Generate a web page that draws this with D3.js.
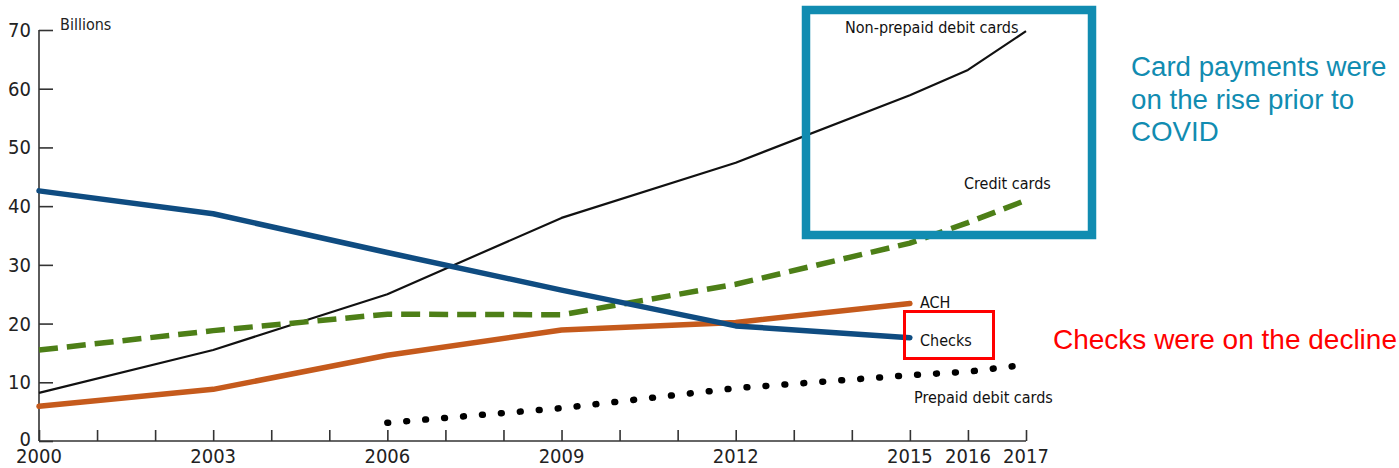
<!DOCTYPE html>
<html>
<head>
<meta charset="utf-8">
<script src="https://cdn.jsdelivr.net/npm/d3@7"></script>
<style>
  html, body { margin: 0; padding: 0; background: #fff; }
  svg { display: block; }
  .narrow { font-family: "Liberation Sans Narrow", "DejaVu Sans Condensed", "Liberation Sans", sans-serif; }
</style>
</head>
<body>
<svg id="chart" width="1399" height="468"></svg>
<script>
// Noncash payments by type, billions of transactions
const debitYears   = [2000, 2003, 2006, 2009, 2012, 2015, 2016, 2017];
const debitValues  = [8.2, 15.5, 25.0, 38.0, 47.4, 58.9, 63.2, 69.8];
const creditYears  = [2000, 2003, 2006, 2009, 2012, 2015, 2016, 2017];
const creditValues = [15.5, 18.8, 21.6, 21.5, 26.7, 33.7, 37.2, 41.0];
const checkYears   = [2000, 2003, 2006, 2009, 2012, 2015];
const checkValues  = [42.6, 38.7, 32.1, 25.7, 19.6, 17.6];
const achYears     = [2000, 2003, 2006, 2009, 2012, 2015];
const achValues    = [5.9, 8.8, 14.6, 18.9, 20.2, 23.4];
const prepaidYears = [2006, 2009, 2012, 2015, 2016, 2017];
const prepaidValues= [3.1, 5.6, 9.0, 11.2, 11.8, 13.0];
const yTicks       = [0, 10, 20, 30, 40, 50, 60, 70];
const xTickLabels  = [2000, 2003, 2006, 2009, 2012, 2015, 2016, 2017];

const svg = d3.select("#chart");
const x = d3.scaleLinear().domain([2000, 2017]).range([39, 1026]);
const y = d3.scaleLinear().domain([0, 70]).range([441, 30]);

const axisColor = "#333";

// Y axis: ticks point into the plot
const yAxis = d3.axisRight(y).tickValues(yTicks).tickSize(14).tickFormat("");
const yg = svg.append("g").attr("transform", "translate(39,0)").call(yAxis);
yg.select(".domain").attr("stroke", axisColor).attr("stroke-width", 1.6).attr("d", `M0,${y(70)}V${y(0)}`);
yg.selectAll(".tick line").attr("stroke", axisColor).attr("stroke-width", 1.6);
svg.append("g").selectAll("text").data(yTicks).join("text")
  .attr("class", "narrow")
  .attr("x", 31).attr("y", d => y(d) + (d === 0 ? 5 : 7))
  .attr("text-anchor", "end")
  .attr("font-size", 20).attr("fill", "#222")
  .text(d => d);

// X axis: a tick for every year, labels on selected years
const allYears = d3.range(2000, 2018);
const xAxis = d3.axisTop(x).tickValues(allYears).tickSize(11).tickFormat("");
const xg = svg.append("g").attr("transform", `translate(0,${y(0)})`).call(xAxis);
xg.select(".domain").attr("stroke", axisColor).attr("stroke-width", 1.6).attr("d", `M${x(2000)},0H${x(2017)}`);
xg.selectAll(".tick line").attr("stroke", axisColor).attr("stroke-width", 1.6);
svg.append("g").selectAll("text").data(xTickLabels).join("text")
  .attr("class", "narrow")
  .attr("x", d => x(d)).attr("y", 463)
  .attr("text-anchor", "middle")
  .attr("font-size", 20).attr("fill", "#222")
  .text(d => d);

svg.append("text").attr("class", "narrow")
  .attr("x", 60).attr("y", 30).attr("font-size", 16).attr("fill", "#222")
  .text("Billions");

// Series lines
const line = d3.line().x(d => x(d[0])).y(d => y(d[1]));
const zip = (a, b) => a.map((v, i) => [v, b[i]]);

svg.append("path").datum(zip(debitYears, debitValues))
  .attr("d", line).attr("fill", "none")
  .attr("stroke", "#111").attr("stroke-width", 2.2).attr("stroke-linejoin", "round");

svg.append("path").datum(zip(creditYears, creditValues))
  .attr("d", line).attr("fill", "none")
  .attr("stroke", "#4d7f17").attr("stroke-width", 5.5)
  .attr("stroke-dasharray", "19,9");

svg.append("path").datum(zip(achYears, achValues))
  .attr("d", line).attr("fill", "none")
  .attr("stroke", "#c55a1c").attr("stroke-width", 5.5)
  .attr("stroke-linecap", "round").attr("stroke-linejoin", "round");

svg.append("path").datum(zip(checkYears, checkValues))
  .attr("d", line).attr("fill", "none")
  .attr("stroke", "#0f4c81").attr("stroke-width", 5.5)
  .attr("stroke-linecap", "round").attr("stroke-linejoin", "round");

svg.append("path").datum(zip(prepaidYears, prepaidValues))
  .attr("d", line).attr("fill", "none")
  .attr("stroke", "#000").attr("stroke-width", 6.5)
  .attr("stroke-linecap", "round").attr("stroke-dasharray", "0.8,18.2");

// Series labels
const labels = [
  { text: "Non-prepaid debit cards", x: 845, y: 33 },
  { text: "Credit cards", x: 964, y: 189 },
  { text: "ACH", x: 920, y: 308 },
  { text: "Checks", x: 920, y: 346 },
  { text: "Prepaid debit cards", x: 914, y: 403 }
];
svg.append("g").selectAll("text").data(labels).join("text")
  .attr("class", "narrow")
  .attr("x", d => d.x).attr("y", d => d.y)
  .attr("font-size", 16).attr("fill", "#111")
  .text(d => d.text);

// Highlight boxes and notes
svg.append("rect")
  .attr("x", 806).attr("y", 10).attr("width", 286).attr("height", 225)
  .attr("fill", "none").attr("stroke", "#118cb1").attr("stroke-width", 8.5);

svg.append("rect")
  .attr("x", 904.5).attr("y", 311.5).attr("width", 89).attr("height", 47)
  .attr("fill", "none").attr("stroke", "#ff0000").attr("stroke-width", 3);

const note = svg.append("text")
  .attr("font-family", "'Liberation Sans', Arial, sans-serif")
  .attr("font-size", 27.7).attr("fill", "#118cb1");
["Card payments were", "on the rise prior to", "COVID"].forEach((t, i) => {
  note.append("tspan").attr("x", 1131).attr("y", 76 + i * 32.5).text(t);
});

svg.append("text")
  .attr("font-family", "'Liberation Sans', Arial, sans-serif")
  .attr("font-size", 28).attr("fill", "#ff0000")
  .attr("x", 1053).attr("y", 349)
  .text("Checks were on the decline");
</script>
</body>
</html>
